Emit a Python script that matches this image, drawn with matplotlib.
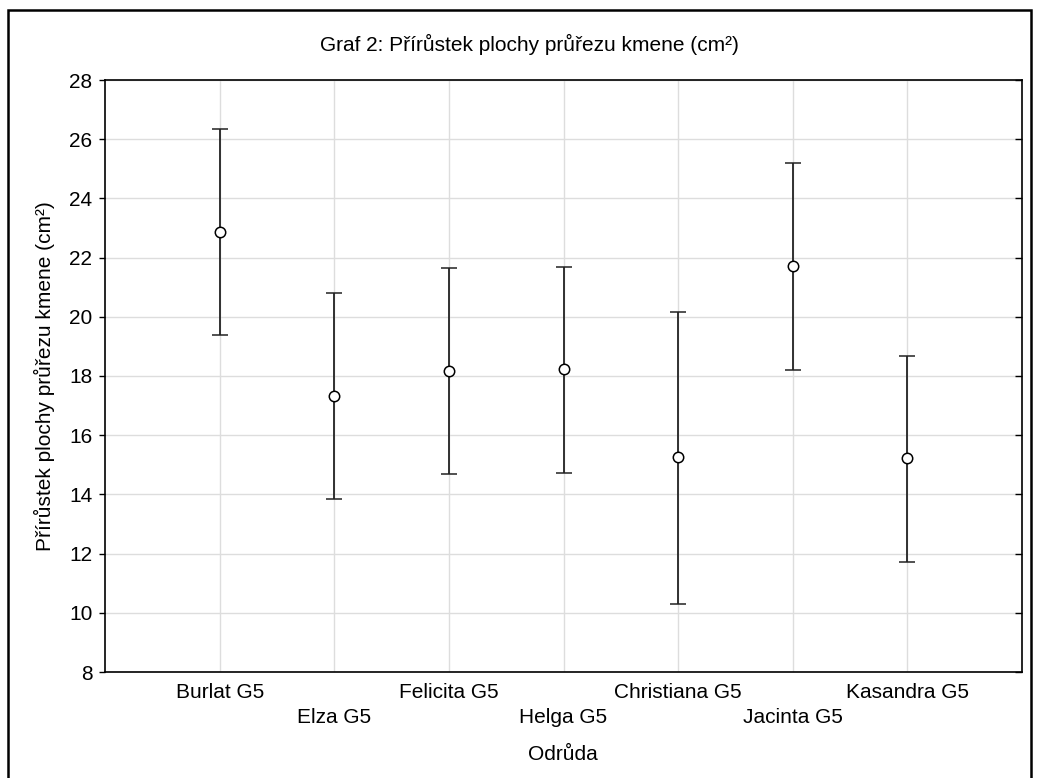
import matplotlib
matplotlib.use("Agg")
import matplotlib.pyplot as plt
from matplotlib.patches import Rectangle

plt.rcParams["font.family"] = ["Liberation Sans", "DejaVu Sans"]

# Data (mean with interval bounds)
varieties = ["Burlat G5", "Elza G5", "Felicita G5", "Helga G5",
             "Christiana G5", "Jacinta G5", "Kasandra G5"]
means = [22.86, 17.34, 18.17, 18.22, 15.26, 21.71, 15.22]
upper = [26.33, 20.80, 21.65, 21.68, 20.17, 25.18, 18.69]
lower = [19.39, 13.85, 14.69, 14.72, 10.31, 18.21, 11.73]

positions = list(range(1, len(varieties) + 1))
err_low = [m - lo for m, lo in zip(means, lower)]
err_high = [up - m for m, up in zip(means, upper)]

fig = plt.figure(figsize=(10.38, 7.78), dpi=100)
ax = fig.add_axes([105 / 1038, 1 - 672 / 778, 917 / 1038, 592 / 778])

ax.errorbar(positions, means, yerr=[err_low, err_high], fmt="o",
            color="black", ecolor="#222222", elinewidth=1.3, capsize=5.5,
            capthick=1.3, markersize=7.5, markerfacecolor="white",
            markeredgecolor="black", markeredgewidth=1.1, zorder=3)

ax.set_xlim(0, 8)
ax.set_ylim(8, 28)
ax.set_yticks(range(8, 29, 2))
ax.set_xticks(positions)
ax.set_xticklabels(varieties)
ax.grid(True, color="#dddddd", linewidth=1.0, zorder=0)
ax.set_axisbelow(True)

for s in ax.spines.values():
    s.set_linewidth(1.2)
    s.set_color("black")

ax.tick_params(axis="y", which="both", direction="out", length=4, width=1,
               labelsize=15, pad=5, right=True)
ax.tick_params(axis="x", length=0, labelsize=15)
# right side ticks point inward
for t in ax.yaxis.get_major_ticks():
    t.tick2line.set_marker(matplotlib.lines.TICKLEFT)
    t.tick2line.set_markersize(5)

# staggered category labels
for i, t in enumerate(ax.xaxis.get_major_ticks()):
    t.set_pad(8 if i % 2 == 0 else 26)

ax.set_ylabel("Přírůstek plochy průřezu kmene (cm²)", fontsize=15)
ax.yaxis.set_label_coords(-0.054, 0.5)

fig.text(563 / 1038, 1 - 755 / 778, "Odrůda", ha="center", va="center",
         fontsize=15)
fig.text(529 / 1038, 1 - 44 / 778, "Graf 2: Přírůstek plochy průřezu kmene (cm²)",
         ha="center", va="center", fontsize=15)

# outer frame
fig.patches.append(Rectangle((8 / 1038, -0.05), 1023 / 1038, 1.05 - 10 / 778,
                             transform=fig.transFigure, fill=False,
                             edgecolor="black", linewidth=1.8))

fig.savefig("out.png", dpi=100)
